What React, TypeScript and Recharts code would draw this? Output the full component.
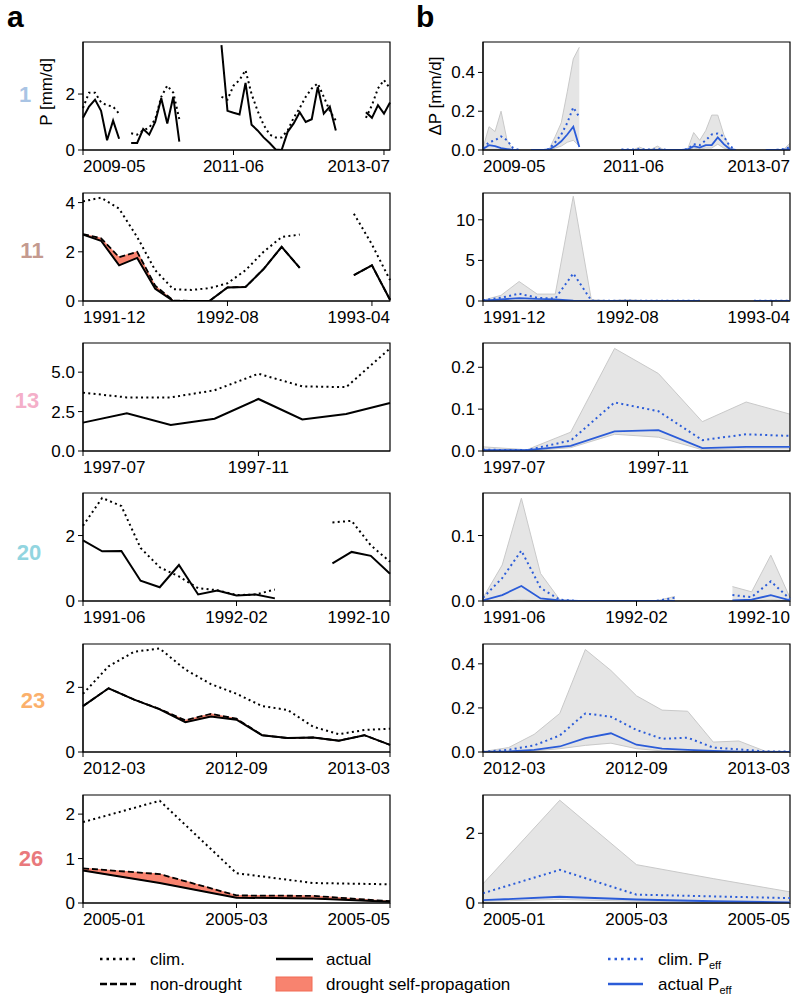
import React from "react";
import { Area, ComposedChart, Line, ReferenceArea, XAxis, YAxis } from "recharts";

const FONT = '"Liberation Sans", Arial, Helvetica, sans-serif';
const BLUE = "#2b5cd8";
const SALMON = "#f8836f";
const PLOT_RIGHT = 390;
const N = null;

// station 1 (monthly from 2009-05)
const S1_TICKS = [0, 25, 50];
const S1_LABELS = ["2009-05", "2011-06", "2013-07"];
const S1_ACT = [1.15, 1.55, 1.8, 1.4, 0.35, 1.05, 0.4, N, 0.25, 0.25, 0.75, 0.55, 1.0, 1.85, 0.95, 1.9, 0.3, N, N, N, N, N, N, 3.75, 1.4, 1.33, 1.27, 2.4, 0.9, 0.7, 0.45, 0.25, 0.02, 0.0, 0.65, 0.95, 1.35, 1.0, 1.1, 2.25, 1.3, 1.55, 0.7, N, N, N, N, 1.35, 1.15, 1.6, 1.3, 1.7];
const S1_CLIM = [1.5, 2.05, 2.05, 1.7, 1.6, 1.55, 1.3, N, 0.6, 0.55, 0.7, 0.8, 1.1, 1.9, 2.3, 2.05, 1.1, N, N, N, N, N, N, 1.9, 1.8, 2.3, 2.5, 2.85, 2.0, 1.4, 0.9, 0.55, 0.45, 0.45, 0.7, 1.15, 1.5, 1.9, 2.2, 2.38, 1.9, 1.4, 1.05, N, N, N, N, 1.15, 1.6, 2.2, 2.5, 2.2];
const S1_HI = [0.01, 0.12, 0.095, 0.2, 0.05, 0.0, 0.0, N, 0, 0, 0, 0.005, 0.07, 0.14, 0.3, 0.47, 0.53, N, N, N, N, N, N, 0.003, 0.002, 0.002, 0.015, 0.002, 0.005, 0.02, 0.002, 0, 0, 0, 0.005, 0.09, 0.05, 0.1, 0.18, 0.18, 0.08, 0.01, 0, N, N, N, N, 0, 0, 0, 0.005, 0.035];
const S1_LO = [0, 0, 0, 0, 0, 0, 0, N, 0, 0, 0, 0, 0.01, 0.02, 0.04, 0.05, 0.02, N, N, N, N, N, N, 0, 0, 0, 0, 0, 0, 0, 0, 0, 0, 0, 0, 0.01, 0.005, 0.01, 0.01, 0.03, 0.01, 0, 0, N, N, N, N, 0, 0, 0, 0, 0];
const S1_PCLIM = [0.01, 0.04, 0.05, 0.07, 0.05, 0.01, 0, N, 0, 0, 0, 0.005, 0.04, 0.08, 0.14, 0.22, 0.17, N, N, N, N, N, N, 0.002, 0.002, 0.002, 0.005, 0.002, 0.002, 0.005, 0.002, 0, 0, 0, 0.005, 0.03, 0.025, 0.05, 0.08, 0.085, 0.07, 0.02, 0, N, N, N, N, 0, 0, 0.002, 0.005, 0.015];
const S1_PACT = [0.005, 0.025, 0.02, 0.01, 0.005, 0, 0, N, 0, 0, 0, 0.003, 0.02, 0.045, 0.08, 0.12, 0.015, N, N, N, N, N, N, 0, 0, 0, 0, 0, 0, 0, 0, 0, 0, 0, 0.003, 0.02, 0.012, 0.025, 0.025, 0.065, 0.03, 0.005, 0, N, N, N, N, 0, 0, 0, 0.002, 0.005];

// station 11 (from 1991-12)
const S11_TICKS = [0, 8, 16];
const S11_LABELS = ["1991-12", "1992-08", "1993-04"];
const S11_ACT = [2.7, 2.45, 1.45, 1.75, 0.5, 0.0, 0.0, 0.0, 0.55, 0.57, 1.3, 2.2, 1.35, N, N, 1.05, 1.45, 0.05];
const S11_ND = [2.72, 2.55, 1.78, 2.0, 0.62, 0.02, 0.0, 0.0, 0.55, 0.57, 1.3, 2.2, 1.35, N, N, 1.05, 1.45, 0.05];
const S11_CLIM = [4.05, 4.2, 3.75, 2.6, 1.25, 0.48, 0.45, 0.52, 0.72, 1.25, 2.0, 2.6, 2.7, N, N, 3.55, 2.3, 0.85];
const S11_HI = [0.1, 0.7, 2.4, 0.85, 0.85, 12.9, 0.15, 0.05, 0.15, 0.05, 0.05, 0.05, 0.05, N, N, 0.02, 0.02, 0.02];
const S11_LO = [0, 0.05, 0.1, 0.05, 0.05, 0.05, 0, 0, 0, 0, 0, 0, 0, N, N, 0, 0, 0];
const S11_PCLIM = [0.1, 0.4, 0.9, 0.4, 0.3, 3.4, 0.05, 0.02, 0.05, 0.03, 0.03, 0.03, 0.03, N, N, 0.02, 0.02, 0.02];
const S11_PACT = [0.05, 0.2, 0.35, 0.25, 0.2, 0.05, 0, 0, 0, 0, 0, 0, 0, N, N, 0, 0, 0];

// station 13 (from 1997-07)
const S13_TICKS = [0, 4];
const S13_LABELS = ["1997-07", "1997-11"];
const S13_ACT = [1.8, 2.4, 1.65, 2.05, 3.3, 2.0, 2.35, 3.05];
const S13_CLIM = [3.7, 3.4, 3.4, 3.85, 4.9, 4.1, 4.05, 6.5];
const S13_HI = [0.01, 0.003, 0.045, 0.245, 0.185, 0.07, 0.117, 0.088];
const S13_LO = [0, 0, 0.008, 0.04, 0.033, 0.003, 0.005, 0.005];
const S13_PCLIM = [0.003, 0.002, 0.025, 0.116, 0.095, 0.026, 0.04, 0.036];
const S13_PACT = [0.002, 0.002, 0.012, 0.047, 0.05, 0.007, 0.01, 0.01];

// station 20 (from 1991-06)
const S20_TICKS = [0, 8, 16];
const S20_LABELS = ["1991-06", "1992-02", "1992-10"];
const S20_ACT = [1.85, 1.52, 1.53, 0.62, 0.42, 1.1, 0.2, 0.32, 0.17, 0.2, 0.08, N, N, 1.15, 1.5, 1.38, 0.83];
const S20_CLIM = [2.3, 3.15, 2.9, 1.62, 1.03, 0.75, 0.39, 0.33, 0.18, 0.2, 0.35, N, N, 2.4, 2.45, 1.7, 1.2];
const S20_HI = [0.005, 0.055, 0.157, 0.042, 0.002, 0, 0, 0, 0, 0, 0.007, N, N, 0.022, 0.014, 0.07, 0.005];
const S20_LO = [0, 0, 0.002, 0, 0, 0, 0, 0, 0, 0, 0, N, N, 0, 0, 0.002, 0];
const S20_PCLIM = [0.005, 0.035, 0.077, 0.02, 0.002, 0, 0, 0, 0, 0, 0.005, N, N, 0.009, 0.006, 0.03, 0.003];
const S20_PACT = [0.001, 0.009, 0.023, 0.004, 0.001, 0, 0, 0, 0, 0, 0, N, N, 0.001, 0.002, 0.009, 0.001];

// station 23 (from 2012-03)
const S23_TICKS = [0, 6, 12];
const S23_LABELS = ["2012-03", "2012-09", "2013-03"];
const S23_ACT = [1.42, 1.97, 1.62, 1.32, 0.92, 1.1, 1.0, 0.52, 0.43, 0.45, 0.35, 0.52, 0.22];
const S23_ND = [1.42, 1.97, 1.62, 1.33, 0.98, 1.18, 1.03, 0.52, 0.43, 0.45, 0.35, 0.52, 0.22];
const S23_CLIM = [1.8, 2.65, 3.1, 3.2, 2.55, 2.1, 1.8, 1.42, 1.3, 0.78, 0.55, 0.68, 0.72];
const S23_HI = [0.002, 0.02, 0.08, 0.175, 0.465, 0.37, 0.255, 0.19, 0.185, 0.045, 0.05, 0.005, 0.002];
const S23_LO = [0, 0.002, 0.005, 0.015, 0.03, 0.04, 0.015, 0.005, 0.002, 0, 0, 0, 0];
const S23_PCLIM = [0.001, 0.01, 0.03, 0.075, 0.175, 0.16, 0.1, 0.06, 0.065, 0.02, 0.012, 0.003, 0.002];
const S23_PACT = [0, 0.003, 0.01, 0.025, 0.063, 0.085, 0.033, 0.015, 0.01, 0.005, 0.002, 0.001, 0];

// station 26 (from 2005-01)
const S26_TICKS = [0, 2, 4];
const S26_LABELS = ["2005-01", "2005-03", "2005-05"];
const S26_ACT = [0.73, 0.45, 0.12, 0.1, 0.03];
const S26_ND = [0.78, 0.65, 0.17, 0.16, 0.04];
const S26_CLIM = [1.82, 2.3, 0.67, 0.45, 0.42];
const S26_HI = [0.55, 2.95, 1.1, 0.7, 0.32];
const S26_LO = [0.05, 0.1, 0.05, 0.03, 0.01];
const S26_PCLIM = [0.28, 0.95, 0.24, 0.19, 0.14];
const S26_PACT = [0.08, 0.18, 0.1, 0.05, 0.02];

const ROWS = [
  { id: "1", color: "#a9c4e4", plotTop: 42, ticks: S1_TICKS, labels: S1_LABELS, act: S1_ACT, nd: null, clim: S1_CLIM, pTop: 3.86, pTicks: [0, 2], pDec: 0, hi: S1_HI, lo: S1_LO, pclim: S1_PCLIM, pact: S1_PACT, dTop: 0.557, dTicks: [0, 0.2, 0.4], dDec: 1 },
  { id: "11", color: "#c49a8f", plotTop: 193, ticks: S11_TICKS, labels: S11_LABELS, act: S11_ACT, nd: S11_ND, clim: S11_CLIM, pTop: 4.39, pTicks: [0, 2, 4], pDec: 0, hi: S11_HI, lo: S11_LO, pclim: S11_PCLIM, pact: S11_PACT, dTop: 13.3, dTicks: [0, 5, 10], dDec: 0 },
  { id: "13", color: "#f4afc9", plotTop: 343, ticks: S13_TICKS, labels: S13_LABELS, act: S13_ACT, nd: null, clim: S13_CLIM, pTop: 6.85, pTicks: [0, 2.5, 5], pDec: 1, hi: S13_HI, lo: S13_LO, pclim: S13_PCLIM, pact: S13_PACT, dTop: 0.258, dTicks: [0, 0.1, 0.2], dDec: 1 },
  { id: "20", color: "#92d5e0", plotTop: 493, ticks: S20_TICKS, labels: S20_LABELS, act: S20_ACT, nd: null, clim: S20_CLIM, pTop: 3.3, pTicks: [0, 2], pDec: 0, hi: S20_HI, lo: S20_LO, pclim: S20_PCLIM, pact: S20_PACT, dTop: 0.165, dTicks: [0, 0.1], dDec: 1 },
  { id: "23", color: "#fbb06b", plotTop: 644, ticks: S23_TICKS, labels: S23_LABELS, act: S23_ACT, nd: S23_ND, clim: S23_CLIM, pTop: 3.34, pTicks: [0, 2], pDec: 0, hi: S23_HI, lo: S23_LO, pclim: S23_PCLIM, pact: S23_PACT, dTop: 0.49, dTicks: [0, 0.2, 0.4], dDec: 1 },
  { id: "26", color: "#e9797c", plotTop: 795, ticks: S26_TICKS, labels: S26_LABELS, act: S26_ACT, nd: S26_ND, clim: S26_CLIM, pTop: 2.43, pTicks: [0, 1, 2], pDec: 0, hi: S26_HI, lo: S26_LO, pclim: S26_PCLIM, pact: S26_PACT, dTop: 3.1, dTicks: [0, 2], dDec: 0 },
];
const STATION_POS = [
  { x: 25, y: 102 },
  { x: 32, y: 258 },
  { x: 27, y: 408 },
  { x: 29, y: 560 },
  { x: 33, y: 708 },
  { x: 31, y: 866 },
];

function XTick(props: any) {
  const { x, y, payload, ticks, labels, xEnd } = props;
  const i = ticks.indexOf(payload.value);
  let anchor = "middle";
  let tx = x;
  if (i === 0) anchor = "start";
  else if (payload.value >= xEnd - 1.5) {
    anchor = "end";
    tx = PLOT_RIGHT;
  }
  return (
    <text x={tx} y={y} dy="0.71em" textAnchor={anchor} fontSize={17} fontFamily={FONT} fill="#000">
      {labels[i]}
    </text>
  );
}

function Frame(props: any) {
  const { ticks, labels, xEnd, yTop, yTicks, yDec } = props;
  return [
    <XAxis
      key="x"
      dataKey="m"
      type="number"
      domain={[0, xEnd]}
      ticks={ticks}
      interval={0}
      tickSize={5}
      tickMargin={5}
      height={37}
      stroke="#000"
      tick={(p: any) => <XTick {...p} ticks={ticks} labels={labels} xEnd={xEnd} />}
    />,
    <YAxis
      key="y"
      type="number"
      domain={[0, yTop]}
      ticks={yTicks}
      interval={0}
      allowDataOverflow
      width={40}
      tickSize={5}
      tickMargin={3}
      stroke="#000"
      tickFormatter={(v: number) => v.toFixed(yDec)}
      tick={{ fill: "#000", fontSize: 17, fontFamily: FONT }}
    />,
  ];
}

function PPanel({ row }: any) {
  const xEnd = row.clim.length - 1;
  const data = row.clim.map((c: number | null, i: number) => ({
    m: i,
    clim: c,
    act: row.act[i],
    nd: row.nd ? row.nd[i] : null,
    red: row.nd && row.act[i] != null ? [row.act[i], row.nd[i]] : [null, null],
  }));
  return (
    <div style={{ position: "absolute", left: 0, top: row.plotTop - 5 }}>
      <ComposedChart width={400} height={150} data={data} margin={{ top: 5, right: 10, left: 43, bottom: 0 }}>
        {Frame({ ticks: row.ticks, labels: row.labels, xEnd, yTop: row.pTop, yTicks: row.pTicks, yDec: row.pDec })}
        <Line dataKey="clim" stroke="#000" strokeWidth={2} strokeDasharray="2 3.3" dot={false} activeDot={false} isAnimationActive={false} />
        {row.nd && (
          <Area dataKey={(d: any) => d.red} fill={SALMON} fillOpacity={1} stroke={SALMON} strokeWidth={1} dot={false} activeDot={false} isAnimationActive={false} />
        )}
        {row.nd && (
          <Line dataKey="nd" stroke="#000" strokeWidth={1.8} strokeDasharray="6 3" dot={false} activeDot={false} isAnimationActive={false} />
        )}
        <Line dataKey="act" stroke="#000" strokeWidth={2} dot={false} activeDot={false} isAnimationActive={false} />
        <ReferenceArea x1={0} x2={xEnd} y1={0} y2={row.pTop} fill="none" stroke="#000" strokeWidth={1.2} ifOverflow="visible" />
      </ComposedChart>
    </div>
  );
}

function DPanel({ row }: any) {
  const xEnd = row.hi.length - 1;
  const data = row.hi.map((h: number | null, i: number) => ({
    m: i,
    band: [row.lo[i], h],
    pclim: row.pclim[i],
    pact: row.pact[i],
  }));
  return (
    <div style={{ position: "absolute", left: 400, top: row.plotTop - 5 }}>
      <ComposedChart width={400} height={150} data={data} margin={{ top: 5, right: 10, left: 43, bottom: 0 }}>
        {Frame({ ticks: row.ticks, labels: row.labels, xEnd, yTop: row.dTop, yTicks: row.dTicks, yDec: row.dDec })}
        <Area dataKey="band" fill="#e5e5e5" fillOpacity={1} stroke="#c9c9c9" strokeWidth={1} dot={false} activeDot={false} isAnimationActive={false} />
        <Line dataKey="pclim" stroke={BLUE} strokeWidth={2} strokeDasharray="2 3.3" dot={false} activeDot={false} isAnimationActive={false} />
        <Line dataKey="pact" stroke={BLUE} strokeWidth={1.8} dot={false} activeDot={false} isAnimationActive={false} />
        <ReferenceArea x1={0} x2={xEnd} y1={0} y2={row.dTop} fill="none" stroke="#000" strokeWidth={1.2} ifOverflow="visible" />
      </ComposedChart>
    </div>
  );
}

function Annotations() {
  return (
    <svg width={800} height={1000} style={{ position: "absolute", left: 0, top: 0, pointerEvents: "none" }} fontFamily={FONT}>
      <text x={7} y={27} fontSize={30} fontWeight="bold">a</text>
      <text x={416} y={27} fontSize={30} fontWeight="bold">b</text>
      <text transform="translate(52,92) rotate(-90)" textAnchor="middle" fontSize={17}>P [mm/d]</text>
      <text transform="translate(441,96) rotate(-90)" textAnchor="middle" fontSize={17}>ΔP [mm/d]</text>
      {ROWS.map((r, i) => (
        <text key={r.id} x={STATION_POS[i].x} y={STATION_POS[i].y} textAnchor="middle" fontSize={22} fontWeight="bold" fill={r.color}>
          {r.id}
        </text>
      ))}
      {/* legend */}
      <line x1={100} x2={136} y1={959} y2={959} stroke="#000" strokeWidth={2.5} strokeDasharray="2.5 4" />
      <text x={150} y={965} fontSize={17}>clim.</text>
      <line x1={100} x2={136} y1={984} y2={984} stroke="#000" strokeWidth={2.5} strokeDasharray="7 3" />
      <text x={150} y={990} fontSize={17}>non-drought</text>
      <line x1={276} x2={313} y1={959} y2={959} stroke="#000" strokeWidth={2.5} />
      <text x={326} y={965} fontSize={17}>actual</text>
      <rect x={276} y={977} width={36} height={14} fill={SALMON} stroke="#f26a55" strokeWidth={1} />
      <text x={326} y={990} fontSize={17}>drought self-propagation</text>
      <line x1={608} x2={643} y1={959} y2={959} stroke={BLUE} strokeWidth={2.5} strokeDasharray="2.5 4" />
      <text x={658} y={965} fontSize={17}>
        clim. P<tspan fontSize={11} dy={4}>eff</tspan>
      </text>
      <line x1={608} x2={643} y1={984} y2={984} stroke={BLUE} strokeWidth={2.5} />
      <text x={658} y={990} fontSize={17}>
        actual P<tspan fontSize={11} dy={4}>eff</tspan>
      </text>
    </svg>
  );
}

export default function App() {
  return (
    <div style={{ position: "absolute", left: 0, top: 0, width: 800, height: 1000, background: "#fff", fontFamily: FONT }}>
      {ROWS.map((r) => (
        <React.Fragment key={r.id}>
          <PPanel row={r} />
          <DPanel row={r} />
        </React.Fragment>
      ))}
      <Annotations />
    </div>
  );
}
